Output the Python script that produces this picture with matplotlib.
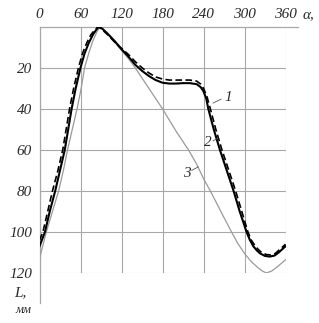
import matplotlib
matplotlib.use("Agg")
import matplotlib.pyplot as plt

# curve 1 (solid)
alpha_1 = [0, 8, 15, 23, 30, 37, 42, 47, 53, 60, 66, 72, 78, 83, 87, 92, 100, 110, 120, 130,
           140, 150, 160, 170, 180, 190, 200, 210, 220, 230, 236, 240, 244, 247, 255, 264, 274,
           284, 293, 303, 308, 313, 318, 323, 330, 337, 344, 350, 355, 360]
L_1 = [107, 100, 90, 80, 70, 60, 50, 40, 30, 20, 13, 8, 4, 1.5, 0, 1, 3.5, 7, 11, 14.5,
       18.5, 21.5, 24, 26, 27.3, 27.7, 27.7, 27.5, 27.5, 28, 29.5, 31.5, 35, 40, 50, 60, 70,
       80, 90, 100, 104, 107, 109, 110.5, 111.7, 112, 111.5, 110, 108.5, 107]

# curve 2 (dashed)
alpha_2 = [0, 5, 12, 19, 27, 34, 39, 44, 50, 57, 63, 69, 75, 81, 86, 92, 100, 110, 120, 130,
           140, 150, 160, 170, 180, 190, 200, 210, 220, 230, 236, 240, 245, 250, 258, 267, 277,
           287, 296, 305, 310, 315, 320, 325, 332, 338, 345, 350, 355, 360]
L_2 = [104, 100, 90, 80, 70, 60, 50, 40, 30, 20, 13, 8, 4, 1.5, 0, 1.5, 4, 7.5, 10.5, 13.5,
       17, 20, 22.5, 24.5, 25.5, 26, 26, 26, 26, 26.5, 28, 30, 34, 40, 50, 60, 70,
       80, 90, 100, 104, 106.5, 108.5, 110, 111, 111.2, 110.5, 109, 107.5, 106]

# curve 3 (thin grey)
alpha_3 = [0, 10, 19, 28, 35, 41, 48, 55, 61, 66, 72, 78, 84, 89, 95, 105, 120, 130, 140, 150,
           160, 170, 180, 190, 200, 210, 218, 230, 240, 250, 260, 270, 281, 290, 300, 310, 320,
           326, 332, 340, 348, 355, 360]
L_3 = [113, 100, 90, 80, 70, 60, 50, 40, 30, 20, 13, 7, 2.5, 0, 2, 5.5, 11.5, 15.5, 20, 25,
       30, 35, 40, 45.5, 51, 56, 60, 67, 74, 80, 86.5, 93, 100, 105.5, 110.5, 114.5, 117.5,
       119, 120, 119, 117, 115, 113.5]

x_ticks = [0, 60, 120, 180, 240, 300, 360]
y_ticks = [20, 40, 60, 80, 100, 120]

font = {"family": "Liberation Serif", "style": "italic"}
text_color = "#2a2a2a"
grid_color = "#a8a8a8"

fig = plt.figure(figsize=(3.19, 3.23), dpi=100)
ax = fig.add_axes([39.5 / 319, 1 - 273 / 323, 246 / 319, 246.3 / 323])
ax.set_xlim(0, 360)
ax.set_ylim(120, 0)
for s in ax.spines.values():
    s.set_visible(False)

for x in x_ticks:
    ax.plot([x, x], [0, 120], color=grid_color, lw=0.8, zorder=1)
for y in y_ticks:
    ax.plot([0, 360], [y, y], color=grid_color, lw=0.8, zorder=1)
# axis lines running past the grid
ax.plot([0, 0], [0, 134.8], color=grid_color, lw=0.9, clip_on=False, zorder=1)
ax.plot([0, 378], [0, 0], color=grid_color, lw=0.9, clip_on=False, zorder=1)

ax.plot(alpha_3, L_3, color="#9a9a9a", lw=0.9, zorder=2)
ax.plot(alpha_1, L_1, color="black", lw=1.5, zorder=3)
ax.plot(alpha_2, L_2, color="black", lw=1.2, dashes=(4, 2), zorder=4)

ax.set_xticks(x_ticks)
ax.set_xticklabels([str(v) for v in x_ticks], fontdict=font, fontsize=11, color=text_color)
ax.set_yticks(y_ticks)
ax.set_yticklabels([str(v) for v in y_ticks], fontdict=font, fontsize=11, color=text_color)
ax.tick_params(axis="x", top=False, bottom=False, labeltop=True, labelbottom=False, pad=0.5)
ax.tick_params(axis="y", left=False, pad=2)

ax.text(394, -5.8, "α,", fontdict=font, fontsize=11, color=text_color,
        ha="center", va="center", clip_on=False)
ax.text(-28, 129.5, "L,", fontdict=font, fontsize=11, color=text_color,
        ha="center", va="center", clip_on=False)
ax.text(-24, 138.2, "мм", fontdict=font, fontsize=9, color=text_color,
        ha="center", va="center", clip_on=False)

# curve labels with leader lines
ax.plot([254, 265.6], [37.2, 35.3], color="#555555", lw=0.6, zorder=5)
ax.text(276, 34.3, "1", fontdict=font, fontsize=11, color=text_color, ha="center", va="center")
ax.plot([254, 261], [55.6, 54.4], color="#555555", lw=0.6, zorder=5)
ax.text(247, 56.4, "2", fontdict=font, fontsize=11, color=text_color, ha="center", va="center")
ax.plot([222.7, 232.4], [70, 68.3], color="#555555", lw=0.6, zorder=5)
ax.text(215.4, 71.5, "3", fontdict=font, fontsize=11, color=text_color, ha="center", va="center")

fig.savefig("out.png", dpi=100)
